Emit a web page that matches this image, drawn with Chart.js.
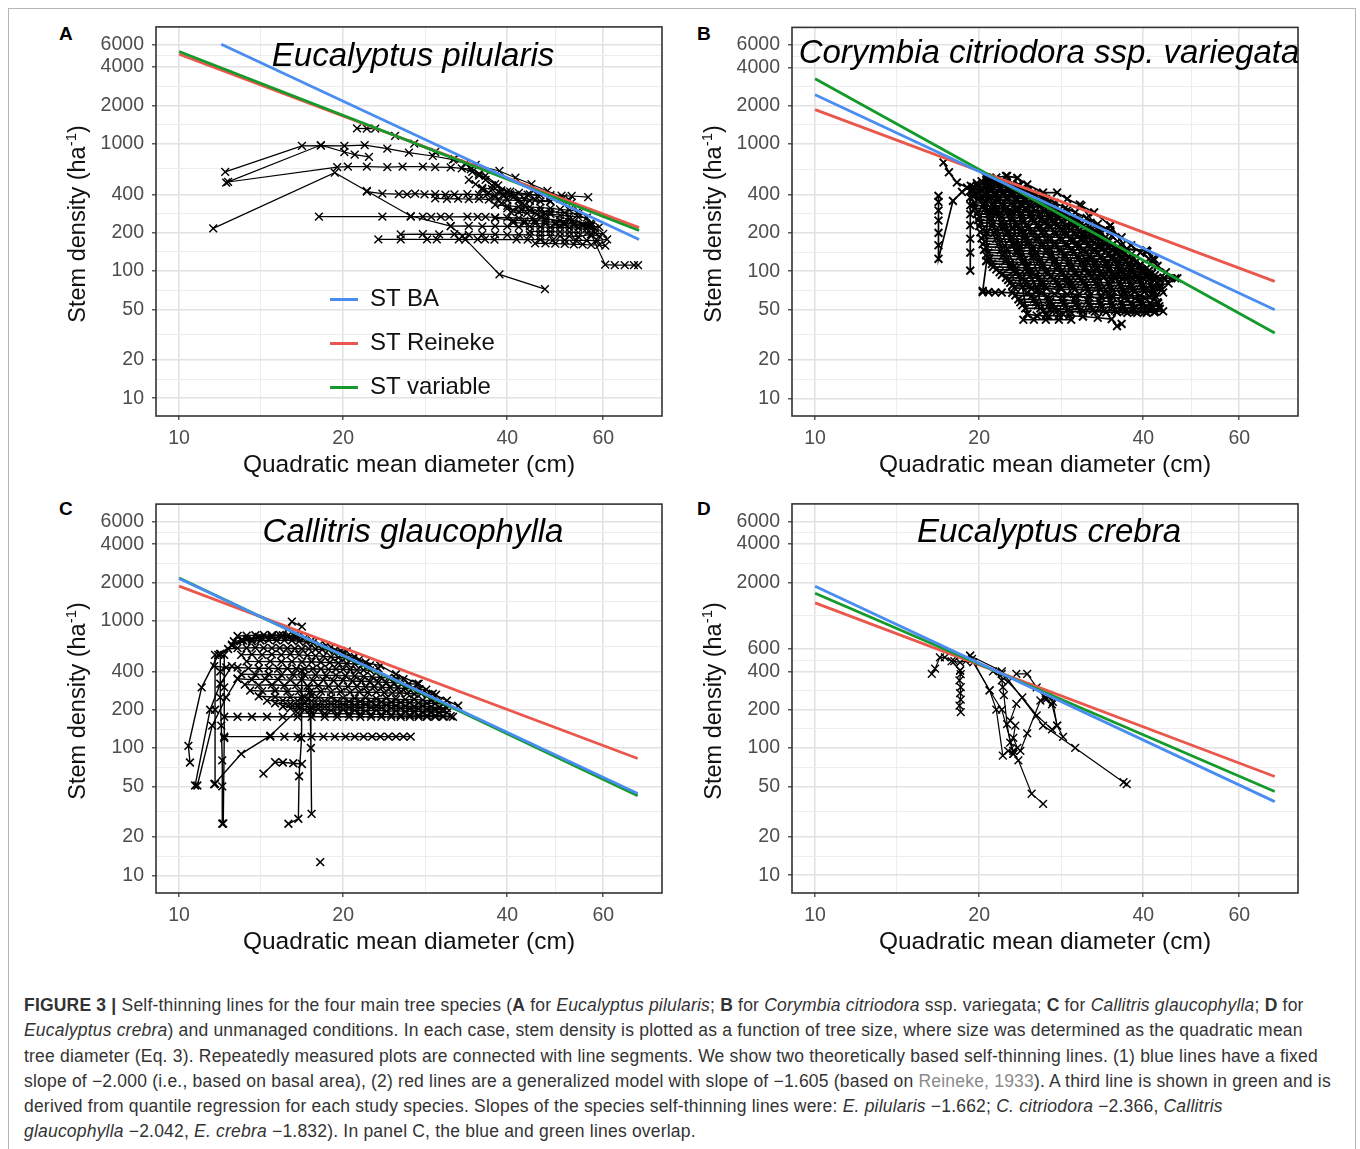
<!DOCTYPE html>
<html>
<head>
<meta charset="utf-8">
<script src="https://cdn.jsdelivr.net/npm/chart.js@4.4.1/dist/chart.umd.min.js"></script>
<style>
  body { margin: 0; background: #fff; font-family: "Liberation Sans", Arial, sans-serif; }
  #page { position: relative; width: 1360px; height: 1149px; overflow: hidden; background: #fff; }
  #frame { position: absolute; left: 8px; top: 8px; width: 1346px; height: 1160px; border: 1px solid #b5b5b5; }
  canvas { position: absolute; }
  .letter { position: absolute; font-weight: bold; font-size: 19px; color: #000; }
  .species { position: absolute; width: 506px; text-align: center; font-style: italic; font-size: 33px; line-height: 38px; color: #000; white-space: nowrap; }
  .xtitle { position: absolute; width: 506px; text-align: center; font-size: 24.5px; line-height: 28px; color: #111; }
  .ytitle { position: absolute; width: 300px; text-align: center; font-size: 23.5px; line-height: 28px; color: #111; transform: rotate(-90deg); white-space: nowrap; }
  .ytitle sup { font-size: 15px; }
  .legend { position: absolute; font-size: 24px; color: #111; }
  .legend div { position: absolute; white-space: nowrap; }
  .legend span { position: absolute; left: 0; width: 28px; height: 3px; }
  #caption { position: absolute; left: 24px; top: 993px; font-size: 17.5px; letter-spacing: 0.2px; line-height: 25.3px; color: #333; white-space: nowrap; }
  #caption .ref { color: #8a8a8a; }
</style>
</head>
<body>
<div id="page">
  <div id="frame"></div>
  <canvas id="cA" width="590" height="450" style="left:80px;top:20px"></canvas>
  <canvas id="cB" width="590" height="450" style="left:716px;top:20px"></canvas>
  <canvas id="cC" width="590" height="450" style="left:80px;top:497px"></canvas>
  <canvas id="cD" width="590" height="450" style="left:716px;top:497px"></canvas>

  <div class="letter" style="left:59px;top:23px">A</div>
  <div class="letter" style="left:697px;top:23px">B</div>
  <div class="letter" style="left:59px;top:498px">C</div>
  <div class="letter" style="left:697px;top:498px">D</div>

  <div class="species" style="left:160px;top:36px">Eucalyptus pilularis</div>
  <div class="species" style="left:796px;top:33px">Corymbia citriodora ssp. variegata</div>
  <div class="species" style="left:160px;top:512px">Callitris glaucophylla</div>
  <div class="species" style="left:796px;top:512px">Eucalyptus crebra</div>

  <div class="xtitle" style="left:156px;top:450px">Quadratic mean diameter (cm)</div>
  <div class="xtitle" style="left:792px;top:450px">Quadratic mean diameter (cm)</div>
  <div class="xtitle" style="left:156px;top:927px">Quadratic mean diameter (cm)</div>
  <div class="xtitle" style="left:792px;top:927px">Quadratic mean diameter (cm)</div>

  <div class="ytitle" style="left:-76px;top:207px">Stem density (ha<sup>-1</sup>)</div>
  <div class="ytitle" style="left:560px;top:207px">Stem density (ha<sup>-1</sup>)</div>
  <div class="ytitle" style="left:-76px;top:684px">Stem density (ha<sup>-1</sup>)</div>
  <div class="ytitle" style="left:560px;top:684px">Stem density (ha<sup>-1</sup>)</div>

  <div class="legend" id="legendA" style="left:330px;top:284px"></div>

  <div id="caption">
    <b>FIGURE 3 |</b> Self-thinning lines for the four main tree species (<b>A</b> for <i>Eucalyptus pilularis</i>; <b>B</b> for <i>Corymbia citriodora</i> ssp. variegata; <b>C</b> for <i>Callitris glaucophylla</i>; <b>D</b> for<br>
    <i>Eucalyptus crebra</i>) and unmanaged conditions. In each case, stem density is plotted as a function of tree size, where size was determined as the quadratic mean<br>
    tree diameter (Eq. 3). Repeatedly measured plots are connected with line segments. We show two theoretically based self-thinning lines. (1) blue lines have a fixed<br>
    slope of &minus;2.000 (i.e., based on basal area), (2) red lines are a generalized model with slope of &minus;1.605 (based on <span class="ref">Reineke, 1933</span>). A third line is shown in green and is<br>
    derived from quantile regression for each study species. Slopes of the species self-thinning lines were: <i>E. pilularis</i> &minus;1.662; <i>C. citriodora</i> &minus;2.366, <i>Callitris</i><br>
    <i>glaucophylla</i> &minus;2.042, <i>E. crebra</i> &minus;1.832). In panel C, the blue and green lines overlap.
  </div>
</div>

<script>
// axes (log-log), shared by all panels
const xLimits = [9.07, 76.9];
const yLimits = [7.26, 8260];
const xMajor = [10, 20, 40, 60];
const xMinor = [14.1, 28.3, 49];
const yMajor = [10, 20, 50, 100, 200, 400, 1000, 2000, 4000, 6000];
const yMinor = [14.1, 31.6, 70.7, 141, 283, 632, 1414, 2828, 4899];
const yMajorD = [10, 20, 50, 100, 200, 400, 600, 2000, 4000, 6000];
const yMinorD = [14.1, 31.6, 70.7, 141, 283, 490, 1095, 2828, 4899];

const seriesNames = ['ST BA', 'ST Reineke', 'ST variable'];
const seriesColors = ['#4a8df0', '#e9574d', '#149a2b'];

// self-thinning lines, [diameter, stems/ha] end points: BA, Reineke, variable
const linesA = [[[11.95, 6040], [69.8, 177]], [[10, 5040], [69.8, 219]], [[10, 5290], [69.8, 208]]];
const linesB = [[[10, 2443], [69.7, 49.8]], [[10, 1862], [69.7, 83.2]], [[10, 3265], [69.7, 32.6]]];
const linesC = [[[10, 2152], [69.4, 43.9]], [[10, 1873], [69.4, 82.7]], [[10, 2170], [69.4, 42.1]]];
const linesD = [[[10, 1866], [69.7, 37.9]], [[10, 1378], [69.7, 59.7]], [[10, 1644], [69.7, 45.5]]];

// repeatedly measured plots, [diameter, stems/ha]
const plotsA = [
  [[11.55,216],[19.3,591],[22.1,425],[26.6,270],[31.5,225],[33.1,188],[38.7,94],[46.9,72]],
  [[12.15,600],[16.8,960],[18.2,965],[20.1,960],[21.9,975],[24.1,913],[26.4,850],[29.2,800],[31.8,750],[33.5,700],[35.5,580],[38,480],[40,420],[42.4,330],[46.2,265],[50.7,240],[56.3,225]],
  [[12.2,494],[18.2,975],[20.1,860],[21,820],[22.3,786]],
  [[12.3,500],[19.5,655],[20.4,660],[22.1,660],[24.1,655],[25.7,660],[28,660],[29.5,655],[31.5,650],[34.3,630],[36.5,560],[38.5,470],[40.5,400],[43,330],[47,280],[52,255],[57,230]],
  [[22.1,420],[23.6,405],[25.3,402],[26.2,400],[27.1,405],[28.2,400],[29.5,402],[30.8,398],[32,400],[33.8,402],[35.5,398],[36.7,400],[38,395],[39.3,398],[41.4,396],[43.6,398],[45.5,392],[48,395],[50.3,390],[52.5,388],[56.3,380]],
  [[29.5,372],[31,368],[32.5,370],[34,366],[35.5,368],[37,364],[38.5,362],[40,360],[42,358],[44,356],[46,352],[48,350]],
  [[18.05,267],[23.6,267],[26.6,267],[28,267],[29,266],[30.2,267],[31.3,266],[33.8,267],[35.3,266],[36.5,266],[38,264],[40,262],[42,260],[44.5,258],[47,255],[50,250],[52.5,247],[56.6,225]],
  [[31.5,225],[34,226],[36,224],[38,225],[40,224],[42,222],[44,224],[46,222],[48,220],[50,221],[52,218],[54,218],[56,216],[58,215]],
  [[25.5,194],[28,195],[30,194],[32,195],[34,193],[36,194],[38,194],[40,192],[42,193],[44,192],[46,190],[48,190],[50,188],[52,188],[54,186],[57,194],[59,188]],
  [[23.2,177],[25.5,177],[28.5,177],[29.7,177],[32.6,177],[33.5,176],[35.3,177],[36.4,177],[37.9,176],[41.6,177],[43.6,176],[46,176],[48.5,175],[51,175],[53.5,174],[56,174],[58.5,173],[61,177]],
  [[57,194],[60.5,112],[63,111],[65.7,111],[68.3,111],[69.5,111]],
  [[21.2,1320],[22.1,1310],[22.9,1310],[24.9,1150],[27,1000],[29.5,860],[32,760],[35,680],[38.7,610],[41.4,540],[44.3,480],[47.4,425],[50.7,376],[52.5,344]],
  [[33,640],[34.5,600],[35.5,560],[36.5,520],[37.5,470],[38.5,420],[39.5,390],[41,380],[43,370],[45,360],[48,355]],
  [[40.6,290],[42,290],[43.5,285],[45,285],[46.5,280],[48,280],[50,275],[52,270],[54,265],[56,262]],
  [[38,260],[41,250],[43,248],[45,250],[47,245],[49,240],[51,238],[53,235],[55,232],[57,228]],
  [[34,520],[35,480],[36,440],[37,410],[38,380],[39,340],[40,310],[41,300],[42.5,300],[44,298],[46,296],[48,292],[51,286],[54,280],[57,240]],
  [[36,450],[37.5,440],[39,430],[40.5,420],[42,410],[44,400],[46,395],[48,385],[50,370],[52,360]],
  [[38,330],[40,325],[42,320],[44,318],[46,315],[48,310],[50,305],[52,300],[54,295]],
  [[41,240],[43,238],[45,236],[47,234],[49,232],[51,230],[53,228],[55,226],[57,224],[59,222]],
  [[44,205],[46,205],[48,204],[50,203],[52,202],[54,200],[56,199],[58,198],[60,196]],
  [[45,165],[47,165],[49,164],[51,163],[53,162],[55,162],[57,160],[59,160],[60.5,158]]
];

const plotsB = [
  [[17.2,716],[17.6,600],[18.2,498],[19,455],[19.8,470],[20.6,520],[21.5,545],[22.4,560],[23.5,540]],
  [[16.84,391],[16.84,350],[16.84,300],[16.84,250],[16.84,200],[16.84,160],[16.84,125],[17.9,357],[18.6,420],[19.3,470]],
  [[19.26,427],[19.26,380],[19.26,330],[19.26,280],[19.26,230],[19.26,180],[19.26,140],[19.26,101]],
  [[20.6,545],[21.3,520],[22,500],[23,470],[24,440],[25,410],[26.2,380],[27.5,345],[28.8,315],[30,290],[31.5,262],[33,235],[34.8,210],[36.5,185],[38,160],[39.5,140],[41,125],[42.5,110],[44,98],[45.8,88]],
  [[22.5,560],[23.5,540],[24.5,480],[26.2,415],[27.8,415],[29,370],[30.8,327],[32.5,290],[34.8,228],[37.3,149],[40.5,145],[41.7,125]],
  [[20.2,510],[20.8,515],[21.5,505],[22.2,500],[23,490],[23.7,470]],
  [[19.8,492],[20.6,495],[21.4,490],[22.2,488],[23,485],[23.6,478]],
  [[19.5,460],[20,462],[20.6,458],[21.2,460],[21.9,455],[22.6,450],[23.3,445],[24,440],[24.6,430]],
  [[19.4,442],[20.2,440],[21,438],[21.8,440],[22.6,436],[23.4,434],[24.2,430]],
  [[19.4,420],[20,418],[20.7,420],[21.4,415],[22.2,418],[23,412],[23.8,410],[24.6,405],[25.3,398]],
  [[19.7,402],[20.5,400],[21.3,398],[22.1,400],[22.9,396],[23.7,395],[24.5,392],[25.3,390]],
  [[19.5,385],[20.2,380],[21,382],[21.8,378],[22.6,380],[23.4,375],[24.2,372],[25,370],[25.8,365],[26.5,360]],
  [[19.9,366],[20.7,365],[21.6,362],[22.5,364],[23.4,360],[24.3,358],[25.2,356],[26.1,354],[26.8,350]],
  [[19.6,345],[20.4,342],[21.2,345],[22,340],[22.9,342],[23.8,338],[24.7,335],[25.6,335],[26.5,330],[27.4,325]],
  [[19.5,330],[20.4,328],[21.3,326],[22.2,328],[23.1,324],[24,323],[24.9,320],[25.8,320],[26.7,316],[27.6,314]],
  [[19.6,312],[20.5,310],[21.4,308],[22.4,310],[23.4,305],[24.4,305],[25.4,300],[26.4,302],[27.4,298],[28.4,292]],
  [[19.9,296],[20.9,295],[21.9,292],[22.9,294],[23.9,290],[24.9,290],[25.9,287],[26.9,286],[27.9,283],[28.9,280]],
  [[19.8,282],[20.8,280],[21.8,278],[22.8,280],[23.8,275],[24.8,276],[25.8,272],[26.8,270],[27.8,268],[28.8,265],[29.8,260]],
  [[20,268],[21,266],[22,265],[23,266],[24,262],[25,262],[26,260],[27,259],[28,257],[29,255],[30.2,252]],
  [[19.9,252],[21,250],[22,248],[23,250],[24.1,246],[25.2,245],[26.3,243],[27.4,240],[28.5,240],[29.6,236],[30.7,232]],
  [[20.1,240],[21.2,238],[22.3,236],[23.4,238],[24.5,234],[25.6,233],[26.7,232],[27.8,230],[28.9,228],[30,226],[31,224],[31.9,222]],
  [[20,226],[21.1,225],[22.2,222],[23.4,224],[24.6,220],[25.8,218],[27,219],[28.2,215],[29.4,214],[30.6,210],[31.8,208],[32.8,204]],
  [[20.3,213],[21.5,212],[22.7,210],[23.9,212],[25.1,208],[26.3,208],[27.5,206],[28.7,205],[29.9,203],[31.1,201],[32.3,199],[33.4,196]],
  [[20.1,202],[21.3,200],[22.5,198],[23.8,200],[25,196],[26.3,195],[27.6,194],[28.9,192],[30.2,190],[31.5,188],[32.8,185],[34,182]],
  [[20.4,191],[21.7,190],[23,188],[24.3,189],[25.6,186],[26.9,186],[28.2,184],[29.5,183],[30.8,181],[32.1,179],[33.4,177],[34.7,174]],
  [[20.2,181],[21.5,180],[22.8,178],[24.1,179],[25.5,176],[26.9,175],[28.3,174],[29.7,172],[31.1,170],[32.5,168],[33.9,165],[35.2,162]],
  [[20.5,172],[21.9,171],[23.3,169],[24.7,170],[26.1,167],[27.5,167],[28.9,165],[30.3,164],[31.7,162],[33.1,160],[34.5,158],[35.9,155]],
  [[20.3,163],[21.7,162],[23.1,160],[24.5,161],[26,158],[27.5,158],[29,156],[30.5,155],[32,152],[33.5,150],[35,148],[36.4,145]],
  [[20.6,155],[22.1,154],[23.6,152],[25.1,153],[26.6,150],[28.1,150],[29.6,148],[31.1,147],[32.6,145],[34.1,144],[35.6,142],[37.1,139]],
  [[20.4,147],[21.9,146],[23.4,144],[25,145],[26.6,142],[28.2,142],[29.8,140],[31.4,139],[33,137],[34.6,136],[36.2,133],[37.6,130]],
  [[20.8,140],[22.3,139],[23.9,137],[25.5,138],[27.1,135],[28.7,135],[30.3,133],[31.9,132],[33.5,130],[35.1,129],[36.7,127],[38.2,125]],
  [[20.6,133],[22.1,132],[23.7,130],[25.3,131],[27,128],[28.7,128],[30.4,126],[32.1,125],[33.8,124],[35.5,122],[37.2,120],[38.8,118]],
  [[20.9,126],[22.5,125],[24.2,123],[25.9,124],[27.6,122],[29.3,121],[31,120],[32.7,119],[34.4,118],[36.1,117],[37.8,115],[39.5,113]],
  [[20.6,120],[22.3,119],[24,117],[25.7,118],[27.4,116],[29.1,115],[30.8,114],[32.5,113],[34.2,112],[35.9,111],[37.6,110],[39.3,108],[40.6,106]],
  [[21.1,114],[22.8,113],[24.5,112],[26.2,112],[27.9,110],[29.6,110],[31.3,109],[33,108],[34.7,107],[36.4,106],[38.1,105],[39.8,103],[41,101]],
  [[21.2,108],[22.8,107],[24.4,106],[26,106],[27.7,104],[29.4,104],[31.1,103],[32.8,102],[34.5,101],[36.2,100],[38,99],[39.8,98],[41.5,96]],
  [[21.5,103],[23.2,102],[24.9,101],[26.6,101],[28.3,100],[30,99],[31.7,99],[33.4,98],[35.1,97],[36.8,96],[38.6,95],[40.4,94],[42,93]],
  [[21.8,98],[23.4,97],[25,96],[26.7,96],[28.4,95],[30.1,94],[31.8,94],[33.5,93],[35.2,92],[37,92],[38.8,91],[40.6,90],[42.4,89],[43.8,88]],
  [[22,93.5],[23.7,93],[25.4,92],[27.1,92],[28.8,91],[30.5,91],[32.2,90],[33.9,90],[35.6,89],[37.4,89],[39.2,88],[41,87],[42.8,86]],
  [[22.4,89],[24,88],[25.7,88],[27.4,87],[29.1,87],[30.8,86],[32.5,86],[34.9,88],[36.6,88],[38.3,88],[40,88],[41.8,87],[43.6,88],[45,88],[46.2,88]],
  [[22.6,85],[24.3,84],[26,84],[27.7,83],[29.4,83],[31.1,82],[32.8,82],[34.5,81],[36.2,81],[37.9,80],[39.6,80],[41.3,79],[43,78],[44.5,80]],
  [[22.8,81],[24.5,80],[26.2,80],[27.9,79],[29.6,79],[31.3,78],[33,78],[34.7,77],[36.4,77],[38.1,76],[39.8,76],[41.5,75],[43,74]],
  [[23,77],[24.7,76],[26.4,76],[28.1,75],[29.8,75],[31.5,74],[33.2,74],[34.9,73],[36.6,73],[38.3,72],[40,72],[41.7,71],[43.2,71]],
  [[23.2,74],[24.9,73],[26.6,73],[28.3,72],[30,72],[31.7,71],[33.4,71],[35.1,70],[36.8,70],[38.5,69],[40.2,69],[41.8,68]],
  [[20.3,68.4],[20.8,68.4],[21.4,68],[22,68],[23,67.5],[24.5,67],[26,67],[27.5,66.5],[29,66],[30.5,66],[32,65.5],[33.5,65],[35,65],[36.5,64.5],[38,64],[39.5,64],[41,63.5],[42.2,63]],
  [[23.3,64.5],[25,64],[26.7,63.5],[28.4,63],[30.1,63],[31.8,62.5],[33.5,62],[35.2,62],[36.9,61.5],[38.6,61],[40.3,61],[42,60.5]],
  [[23.6,60],[25.2,60],[26.8,59.5],[28.4,59],[30,59],[31.6,58.5],[33.2,58],[34.8,58],[36.4,57.5],[38,57],[39.6,57],[41.2,56.5],[42.6,56]],
  [[23.8,57],[25.4,57],[27,56.5],[28.6,56],[30.2,56],[31.8,55.5],[33.4,55],[35,55],[36.6,54.5],[38.2,54],[39.8,54],[41.4,53.5],[42.8,53]],
  [[24,54],[25.6,54],[27.2,53.5],[28.8,53],[30.4,53],[32,52.5],[33.6,52],[35.2,52],[36.8,51.5],[38.4,51],[40,51],[41.5,50.5],[42.9,50.5]],
  [[24.3,51],[25.9,51],[27.5,50.5],[29.1,50],[30.7,50],[32.3,49.5],[33.9,49],[35.5,49],[37.1,48.5],[38.7,48],[40.3,48],[41.9,47.5]],
  [[26.2,48.4],[27.8,48.4],[29.4,48],[31,48],[32.6,48],[34.2,47.5],[35.8,47.5],[37.4,47],[39,47],[40.6,47],[42.1,48],[43.5,48.4]],
  [[24.5,46],[25.5,44.8],[26.8,44.5],[28,44.8],[29.3,44.8],[31,44],[33,43],[35,42],[35.8,37],[36.5,38.5]],
  [[24.1,41.5],[25.2,41.5],[26.5,41.5],[28,41.5],[29.5,41.5]],
  [[20.65,545],[20.65,400],[20.7,300],[20.65,200],[20.65,121],[20.3,70]],
  [[21.5,300],[22,220],[22.5,150],[23.2,110],[24,75],[24.5,46]],
  [[23,400],[23.5,300],[24.2,200],[25,130],[26,80],[27,50]],
  [[20.8,480],[21.5,400],[22.3,300],[23,220],[23.8,160],[24.6,110],[25.5,70],[26.5,45]],
  [[22,520],[23,420],[24,330],[25,260],[26,200],[27,150],[28,110],[29,80],[30,55],[31,44]],
  [[24,450],[25.5,350],[27,270],[28.5,210],[30,160],[31.5,120],[33,90],[34.5,65],[35.8,48]],
  [[26.5,370],[28,300],[29.5,240],[31,190],[32.5,150],[34,115],[35.5,88],[37,66],[38.5,50]],
  [[29,300],[30.5,250],[32,200],[33.5,160],[35,125],[36.5,98],[38,77],[39.5,60],[41,50]],
  [[32,240],[33.5,200],[35,160],[36.5,130],[38,105],[39.5,85],[41,70],[42.5,57]],
  [[35,190],[36.5,160],[38,135],[39.5,112],[41,95],[42.5,80],[43.5,68]],
  [[20.5,350],[21.5,280],[22.5,200],[23.5,140],[24.5,100],[25.5,75],[27,58],[28.5,46]],
  [[30.6,334],[33.3,209],[34.8,228],[37.3,149],[40.5,145],[41.7,125],[40.7,143],[42,123]]
];

const plotsC = [
  [[10.47,77],[10.4,104],[11,300],[11.8,540],[12.5,640],[13.3,720],[14,745],[14.8,760],[15.5,770],[16.1,985],[16.8,900]],
  [[12.8,760],[13.3,765],[13.8,770],[14.3,775],[14.8,770],[15.3,775],[15.8,760],[16.3,760]],
  [[12.6,690],[13.1,700],[13.6,690],[14.1,700],[14.6,705],[15.1,700],[15.6,705],[16.1,700],[16.6,690],[17.1,680],[17.6,670],[18.1,650],[18.6,640]],
  [[11.9,548],[12.3,600],[12.8,610],[13.3,612],[13.8,615],[14.3,612],[14.8,610],[15.3,612],[15.8,608],[16.3,605],[16.8,600],[17.3,602],[17.8,598],[18.3,595],[18.8,590],[19.3,585],[19.8,580],[20.3,575]],
  [[12.5,650],[13,700],[13.6,720],[14.2,730],[14.8,740],[15.4,745],[16,750],[16.5,745],[17,735],[17.5,700]],
  [[13,540],[13.6,545],[14.2,540],[14.8,545],[15.4,540],[16,545],[16.6,540],[17.2,535],[17.8,530],[18.4,525],[19,520],[19.6,515],[20.2,510],[20.8,505],[21.4,495]],
  [[13.3,480],[14,478],[14.7,480],[15.4,476],[16.1,478],[16.8,474],[17.5,476],[18.2,472],[18.9,470],[19.6,466],[20.3,462],[21,458],[21.7,452],[22.4,446]],
  [[11.6,440],[12.2,430],[12.8,430],[13.4,425],[14,422],[14.6,425],[15.2,420],[15.8,422],[16.4,420],[17,418],[17.6,420],[18.2,418],[18.8,415],[19.4,418],[20,415],[20.6,412],[21.2,410],[21.8,410],[22.4,408],[23.2,422]],
  [[13,380],[13.8,378],[14.6,380],[15.4,376],[16.2,378],[17,374],[17.8,376],[18.6,372],[19.4,374],[20.2,370],[21,368],[21.8,366],[22.6,362],[23.4,360],[24.2,356],[25,352],[25.8,348]],
  [[12.8,350],[13.6,345],[14.4,348],[15.2,345],[16,342],[16.8,345],[17.6,340],[18.4,342],[19.2,338],[20,340],[20.8,335],[21.6,336],[22.4,332],[23.2,330],[24,328],[24.8,325],[25.6,322],[26.4,320],[27.3,318]],
  [[13.2,315],[14,312],[14.8,314],[15.6,310],[16.4,312],[17.2,308],[18,310],[18.8,306],[19.6,308],[20.4,304],[21.2,305],[22,302],[22.8,303],[23.6,300],[24.4,298],[25.2,296],[26,294],[26.8,292],[27.6,290],[28.4,288]],
  [[13.5,283],[14.2,280],[15,282],[15.8,278],[16.6,280],[17.4,277],[18.2,278],[19,275],[19.8,277],[20.6,274],[21.4,276],[22.2,273],[23,275],[23.8,272],[24.6,270],[25.4,272],[26.2,268],[27,266],[27.8,268],[28.6,265],[29.6,262]],
  [[14,255],[15,252],[16,250],[17,252],[18,248],[19,250],[20,248],[21,246],[22,248],[23,244],[24,246],[25,242],[26,240],[27,242],[28,238],[29,236],[30,234]],
  [[14.5,236],[15.5,236],[16.5,235],[17.5,234],[18.5,234],[19.5,233],[20.5,232],[21.5,232],[22.5,231],[23.5,230],[24.5,229],[25.5,228],[26.5,227],[27.5,226],[28.5,225],[29.5,224],[30.5,222]],
  [[15,225],[16,222],[17,224],[18,220],[19,222],[20,220],[21,218],[22,220],[23,216],[24,218],[25,215],[26,214],[27,212],[28,214],[29,210],[30,208],[31,206]],
  [[15.5,212],[16.5,212],[17.5,211],[18.5,210],[19.5,210],[20.5,209],[21.5,208],[22.5,208],[23.5,207],[24.5,206],[25.5,205],[26.5,204],[27.5,203],[28.5,202],[29.5,201],[30.5,200]],
  [[16,205],[17,200],[18,202],[19,198],[20,200],[21,198],[22,196],[23,198],[24,195],[25,196],[26,194],[27,195],[28,192],[29,193],[30,190],[31,190]],
  [[16.5,188],[17.5,188],[18.5,187],[19.5,186],[20.5,186],[21.5,185],[22.5,184],[23.5,184],[24.5,183],[25.5,182],[26.5,182],[27.5,181],[28.5,180],[29.5,180],[30.5,179],[31.5,178]],
  [[12.1,176],[12.8,176],[13.6,176],[14.5,176],[15.5,176],[16.5,176],[17.5,176],[18.5,176],[19.5,176],[20.5,176],[21.5,176],[22.5,176],[23.5,176],[24.5,176],[25.5,176],[26.5,176],[27.5,176],[28.5,176],[29.5,176],[30.5,176],[31.8,176]],
  [[12.1,123],[14.7,123],[15.6,123],[16.5,123],[17.5,123],[18.4,123],[19.3,123],[20.2,123],[21,123],[21.8,123],[22.6,123],[23.4,123],[24.2,123],[25,123],[25.8,123],[26.6,123]],
  [[11.9,548],[11.9,400],[11.9,250],[11.95,150],[12,80],[12,50],[12,25.4]],
  [[12.1,540],[12.1,300],[12.1,120],[12.05,25.5]],
  [[16.8,405],[16.8,250],[16.75,120],[16.6,60],[16.55,27.8],[15.87,25.4]],
  [[17.3,300],[17.4,200],[17.45,100],[17.5,30.4]],
  [[10.7,50.8],[11.4,200],[11.9,320],[12.5,440]],
  [[10.8,50.8],[11.5,150],[12.2,250],[12.8,350]],
  [[11.64,52.4],[11.64,200],[11.64,540]],
  [[11.6,52],[13,90],[14.7,125],[16.7,210],[17.5,260]],
  [[14.28,62.9],[15,77.5],[15.5,77],[16.2,76],[16.8,75]],
  [[18.15,12.7]],
  [[19,620],[20,560],[21,520],[22,470],[23.4,444],[25,380],[27.5,320],[29.2,267],[31,236],[32.5,215]]
];

const plotsD = [
  [[16.37,382],[16.6,420],[16.94,515],[17.3,515],[17.8,480],[18.45,406]],
  [[18.45,406],[18.5,380],[18.4,340],[18.5,300],[18.45,270],[18.5,240],[18.4,215],[18.5,191]],
  [[19.25,530],[20.9,283],[21.5,200],[22.1,87],[22.6,95],[23.1,90],[23.5,100],[23.1,120],[23.3,150],[22.8,164],[23.4,222]],
  [[19.25,530],[22,400],[26.2,150],[30,100],[36.8,53.8],[37.3,52]],
  [[22,382],[22,340],[22.1,300],[22.2,260],[22.5,154],[22.8,110],[23.1,90],[23.6,80],[24.96,43.7],[26.2,36.4]],
  [[23.4,382],[24.5,382],[25.5,299],[26.5,240],[27.2,220],[27.8,150],[28.5,122]],
  [[23.8,95],[24.5,130],[25.9,236],[26.5,250],[26.9,254],[27.3,230],[27.8,150]],
  [[18.9,480],[19.5,470],[20.9,283],[22,200],[23.1,95]],
  [[18,480],[18.45,470],[19.4,500],[21.2,400],[22.6,330],[24,250],[25.5,180],[27.2,140]]
];

const lineOrder = [0, 2, 1];

function toXY(arr) {
  return arr.map(p => ({ x: p[0], y: p[1] }));
}

const framePlugin = {
  id: 'frame',
  afterDraw(chart) {
    const a = chart.chartArea, ctx = chart.ctx;
    ctx.save();
    ctx.strokeStyle = '#333';
    ctx.lineWidth = 1.6;
    ctx.strokeRect(a.left, a.top, a.right - a.left, a.bottom - a.top);
    ctx.restore();
  }
};

function logAxis(limits, major, minor, isY) {
  const all = major.concat(minor).sort((a, b) => a - b);
  return {
    type: 'logarithmic',
    min: limits[0],
    max: limits[1],
    afterBuildTicks: s => { s.ticks = all.map(v => ({ value: v })); },
    afterFit: s => {
      if (isY) { s.width = 76; s.paddingTop = 0; s.paddingBottom = 0; }
      else { s.height = 54; s.paddingLeft = 0; s.paddingRight = 0; }
    },
    border: { display: false },
    grid: {
      color: c => (c.tick && major.includes(c.tick.value)) ? '#e2e2e2' : '#ededed',
      lineWidth: c => (c.tick && major.includes(c.tick.value)) ? 1.6 : 1.1,
      tickColor: c => (c.tick && major.includes(c.tick.value)) ? '#333' : 'rgba(0,0,0,0)',
      tickLength: 4,
      tickWidth: 1.2
    },
    ticks: {
      autoSkip: false,
      maxRotation: 0,
      padding: isY ? 8 : 7,
      color: '#4d4d4d',
      font: { family: 'Liberation Sans, Arial, sans-serif', size: 19.5 },
      callback: v => major.includes(v) ? String(v) : ''
    }
  };
}

function createPanel(id, plots, lines, yMaj, yMin, plotWidth) {
  const datasets = [];
  lines.forEach((ln, i) => {
    datasets.push({
      label: seriesNames[i],
      data: toXY(ln),
      showLine: true,
      borderColor: seriesColors[i],
      borderWidth: 2.8,
      pointRadius: 0,
      order: lineOrder[i]
    });
  });
  plots.forEach(tr => {
    datasets.push({
      data: toXY(tr),
      showLine: true,
      borderColor: '#000',
      borderWidth: plotWidth,
      pointStyle: 'crossRot',
      pointRadius: 5.5,
      pointBorderWidth: plotWidth + 0.2,
      pointBorderColor: '#000',
      pointBackgroundColor: 'rgba(0,0,0,0)',
      order: 10
    });
  });
  return new Chart(document.getElementById(id), {
    type: 'scatter',
    data: { datasets },
    options: {
      responsive: false,
      animation: false,
      devicePixelRatio: 1,
      layout: { padding: { top: 6, right: 8, left: 0, bottom: 0 } },
      plugins: { legend: { display: false }, tooltip: { enabled: false } },
      scales: {
        x: logAxis(xLimits, xMajor, xMinor, false),
        y: logAxis(yLimits, yMaj, yMin, true)
      }
    },
    plugins: [framePlugin]
  });
}

createPanel('cA', plotsA, linesA, yMajor, yMinor, 1.2);
createPanel('cB', plotsB, linesB, yMajor, yMinor, 1.7);
createPanel('cC', plotsC, linesC, yMajor, yMinor, 1.4);
createPanel('cD', plotsD, linesD, yMajorD, yMinorD, 1.2);

// legend inside panel A
const legendA = document.getElementById('legendA');
seriesNames.forEach((name, i) => {
  const row = document.createElement('div');
  row.style.top = (i * 44) + 'px';
  row.innerHTML = '<span style="top:14px;background:' + seriesColors[i] + '"></span>' +
    '<b style="font-weight:normal;margin-left:40px">' + name + '</b>';
  legendA.appendChild(row);
});
</script>
</body>
</html>
